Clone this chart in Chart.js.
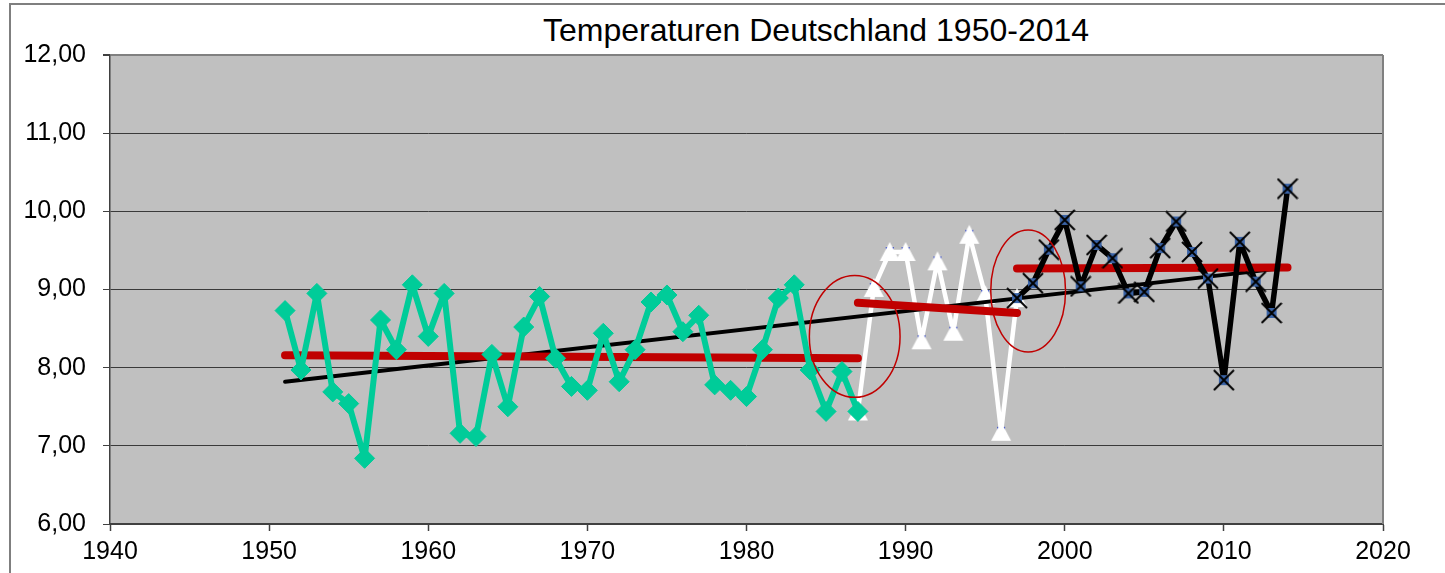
<!DOCTYPE html>
<html>
<head>
<meta charset="utf-8">
<script src="https://cdn.jsdelivr.net/npm/chart.js@4.4.1/dist/chart.umd.min.js"></script>
<style>
  body { margin: 0; background: #fff; }
  #wrap { position: relative; width: 1445px; height: 573px; overflow: hidden; }
  #frame { position: absolute; left: 9px; top: 3px; width: 1500px; height: 700px;
           border-top: 2px solid #7f7f7f; border-left: 2px solid #7f7f7f; }
  #title { position: absolute; left: 816px; top: 14px; transform: translateX(-50%);
           white-space: nowrap; font: 32px "Liberation Sans", Arial, sans-serif; line-height: 1; color: #000; }
  canvas { position: absolute; left: 0; top: 0; }
</style>
</head>
<body>
<div id="wrap">
  <div id="frame"></div>
  <div id="title">Temperaturen Deutschland 1950-2014</div>
  <canvas id="tempChart" width="1445" height="573"></canvas>
</div>
<script>
// yearly mean temperatures, split in three periods
const greenYears = [1951, 1952, 1953, 1954, 1955, 1956, 1957, 1958, 1959, 1960,
  1961, 1962, 1963, 1964, 1965, 1966, 1967, 1968, 1969, 1970,
  1971, 1972, 1973, 1974, 1975, 1976, 1977, 1978, 1979, 1980,
  1981, 1982, 1983, 1984, 1985, 1986, 1987];
const greenTemps = [8.73, 7.97, 8.95, 7.69, 7.54, 6.84, 8.61, 8.23, 9.06, 8.40,
  8.95, 7.16, 7.12, 8.17, 7.50, 8.52, 8.91, 8.12, 7.76, 7.71,
  8.44, 7.82, 8.23, 8.84, 8.93, 8.46, 8.67, 7.78, 7.71, 7.63,
  8.23, 8.89, 9.06, 7.97, 7.44, 7.95, 7.44];

const whiteYears = [1987, 1988, 1989, 1990, 1991, 1992, 1993, 1994, 1995, 1996, 1997];
const whiteTemps = [7.44, 9.02, 9.48, 9.48, 8.35, 9.36, 8.46, 9.70, 8.93, 7.18, 8.89];

const blackYears = [1997, 1998, 1999, 2000, 2001, 2002, 2003, 2004, 2005, 2006,
  2007, 2008, 2009, 2010, 2011, 2012, 2013, 2014];
const blackTemps = [8.89, 9.08, 9.51, 9.89, 9.04, 9.57, 9.40, 8.95, 8.97, 9.53,
  9.87, 9.48, 9.14, 7.84, 9.61, 9.10, 8.70, 10.29];

// trend lines: [startYear, startValue, endYear, endValue]
const overallTrend = [1951, 7.82, 2014, 9.28];
const periodTrends = [
  [1951, 8.16, 1987, 8.12],
  [1987, 8.83, 1997, 8.70],
  [1997, 9.27, 2014, 9.28],
];

// circled transitions: [centerYear, centerValue, halfWidthYears, halfHeightValue]
const circles = [
  [1986.8, 8.40, 2.85, 0.78],
  [1997.7, 8.98, 2.35, 0.78],
];

const xTicks = [1940, 2020, 10];
const yTicks = [6, 12, 1];

function pts(xs, ys) {
  return xs.map((x, i) => ({ x: x, y: ys[i] }));
}
function seg(t) {
  return [{ x: t[0], y: t[1] }, { x: t[2], y: t[3] }];
}

// X marker with blue square behind
function crossMarker() {
  const c = document.createElement("canvas");
  c.width = 22; c.height = 22;
  const g = c.getContext("2d");
  g.fillStyle = "#3a64a8";
  g.fillRect(6, 6, 10, 10);
  g.strokeStyle = "#000";
  g.lineWidth = 2;
  g.beginPath();
  g.moveTo(1, 1); g.lineTo(21, 21);
  g.moveTo(21, 1); g.lineTo(1, 21);
  g.stroke();
  return c;
}

// white triangle with small blue square peeking out
function triMarker() {
  const c = document.createElement("canvas");
  c.width = 24; c.height = 24;
  const g = c.getContext("2d");
  g.fillStyle = "#2a3fc0";
  g.fillRect(8, 7, 8, 8);
  g.fillStyle = "#fff";
  g.beginPath();
  g.moveTo(12, 2); g.lineTo(22, 21); g.lineTo(2, 21);
  g.closePath();
  g.fill();
  return c;
}

const plotFrame = {
  id: "plotFrame",
  beforeDraw(chart) {
    const a = chart.chartArea, ctx = chart.ctx;
    ctx.save();
    ctx.fillStyle = "#c0c0c0";
    ctx.fillRect(a.left, a.top, a.right - a.left, a.bottom - a.top);
    ctx.restore();
  },
  afterDraw(chart) {
    const a = chart.chartArea, ctx = chart.ctx;
    ctx.save();
    ctx.strokeStyle = "#808080";
    ctx.lineWidth = 2;
    ctx.beginPath();
    ctx.moveTo(a.right, a.top);
    ctx.lineTo(a.right, a.bottom);
    ctx.stroke();
    ctx.restore();
  },
  afterDatasetsDraw(chart) {
    const xs = chart.scales.x, ys = chart.scales.y, ctx = chart.ctx;
    ctx.save();
    ctx.strokeStyle = "#c00000";
    ctx.lineWidth = 1.5;
    circles.forEach((c) => {
      const cx = xs.getPixelForValue(c[0]);
      const cy = ys.getPixelForValue(c[1]);
      const rx = Math.abs(xs.getPixelForValue(c[0] + c[2]) - cx);
      const ry = Math.abs(ys.getPixelForValue(c[1] + c[3]) - cy);
      ctx.beginPath();
      ctx.ellipse(cx, cy, rx, ry, 0, 0, Math.PI * 2);
      ctx.stroke();
    });
    ctx.restore();
  },
};

const font = { family: "'Liberation Sans', Arial, sans-serif", size: 25 };

new Chart(document.getElementById("tempChart"), {
  type: "line",
  data: {
    datasets: [
      {
        data: pts(greenYears, greenTemps),
        borderColor: "#00cc99",
        backgroundColor: "#00cc99",
        borderWidth: 6,
        borderJoinStyle: "round",
        pointStyle: "rectRot",
        pointRadius: 10,
        pointBorderWidth: 1,
        order: 1,
      },
      {
        data: pts(whiteYears, whiteTemps),
        borderColor: "#ffffff",
        backgroundColor: "#ffffff",
        borderWidth: 4.5,
        borderJoinStyle: "round",
        pointStyle: triMarker(),
        pointRadius: 11,
        order: 6,
      },
      {
        data: pts(blackYears, blackTemps),
        borderColor: "#000000",
        backgroundColor: "#000000",
        borderWidth: 5.5,
        borderJoinStyle: "round",
        pointStyle: crossMarker(),
        pointRadius: 11,
        order: 1,
      },
      {
        data: seg(overallTrend),
        borderColor: "#000000",
        borderWidth: 4,
        pointRadius: 0,
        borderCapStyle: "round",
        order: 4,
      },
      ...periodTrends.map((t) => ({
        data: seg(t),
        borderColor: "#c00000",
        borderWidth: 8,
        pointRadius: 0,
        borderCapStyle: "round",
        order: 3,
      })),
    ],
  },
  options: {
    responsive: false,
    animation: false,
    devicePixelRatio: 1,
    layout: { padding: { left: 0, top: 55, right: 62, bottom: 0 } },
    plugins: {
      legend: { display: false },
      tooltip: { enabled: false },
    },
    scales: {
      x: {
        type: "linear",
        min: xTicks[0],
        max: xTicks[1],
        afterFit(scale) { scale.height = 49; },
        ticks: { stepSize: xTicks[2], color: "#000", font: font, padding: 6, callback: (v) => String(v) },
        grid: { drawOnChartArea: false, drawTicks: true, tickLength: 7, tickColor: "#404040", tickWidth: 1.5 },
        border: { color: "#404040", width: 2 },
      },
      y: {
        min: yTicks[0],
        max: yTicks[1],
        afterFit(scale) { scale.width = 110; },
        ticks: {
          stepSize: yTicks[2],
          color: "#000",
          font: font,
          padding: 17,
          callback: (v) => v.toFixed(2).replace(".", ","),
        },
        grid: {
          color: (c) => (c.tick && c.tick.value === 12 ? "#808080" : "#3a3a3a"),
          lineWidth: (c) => (c.tick && c.tick.value === 12 ? 2 : 1),
          tickLength: 7,
          tickColor: "#404040",
        },
        border: { color: "#404040", width: 1.5 },
      },
    },
  },
  plugins: [plotFrame],
});
</script>
</body>
</html>
